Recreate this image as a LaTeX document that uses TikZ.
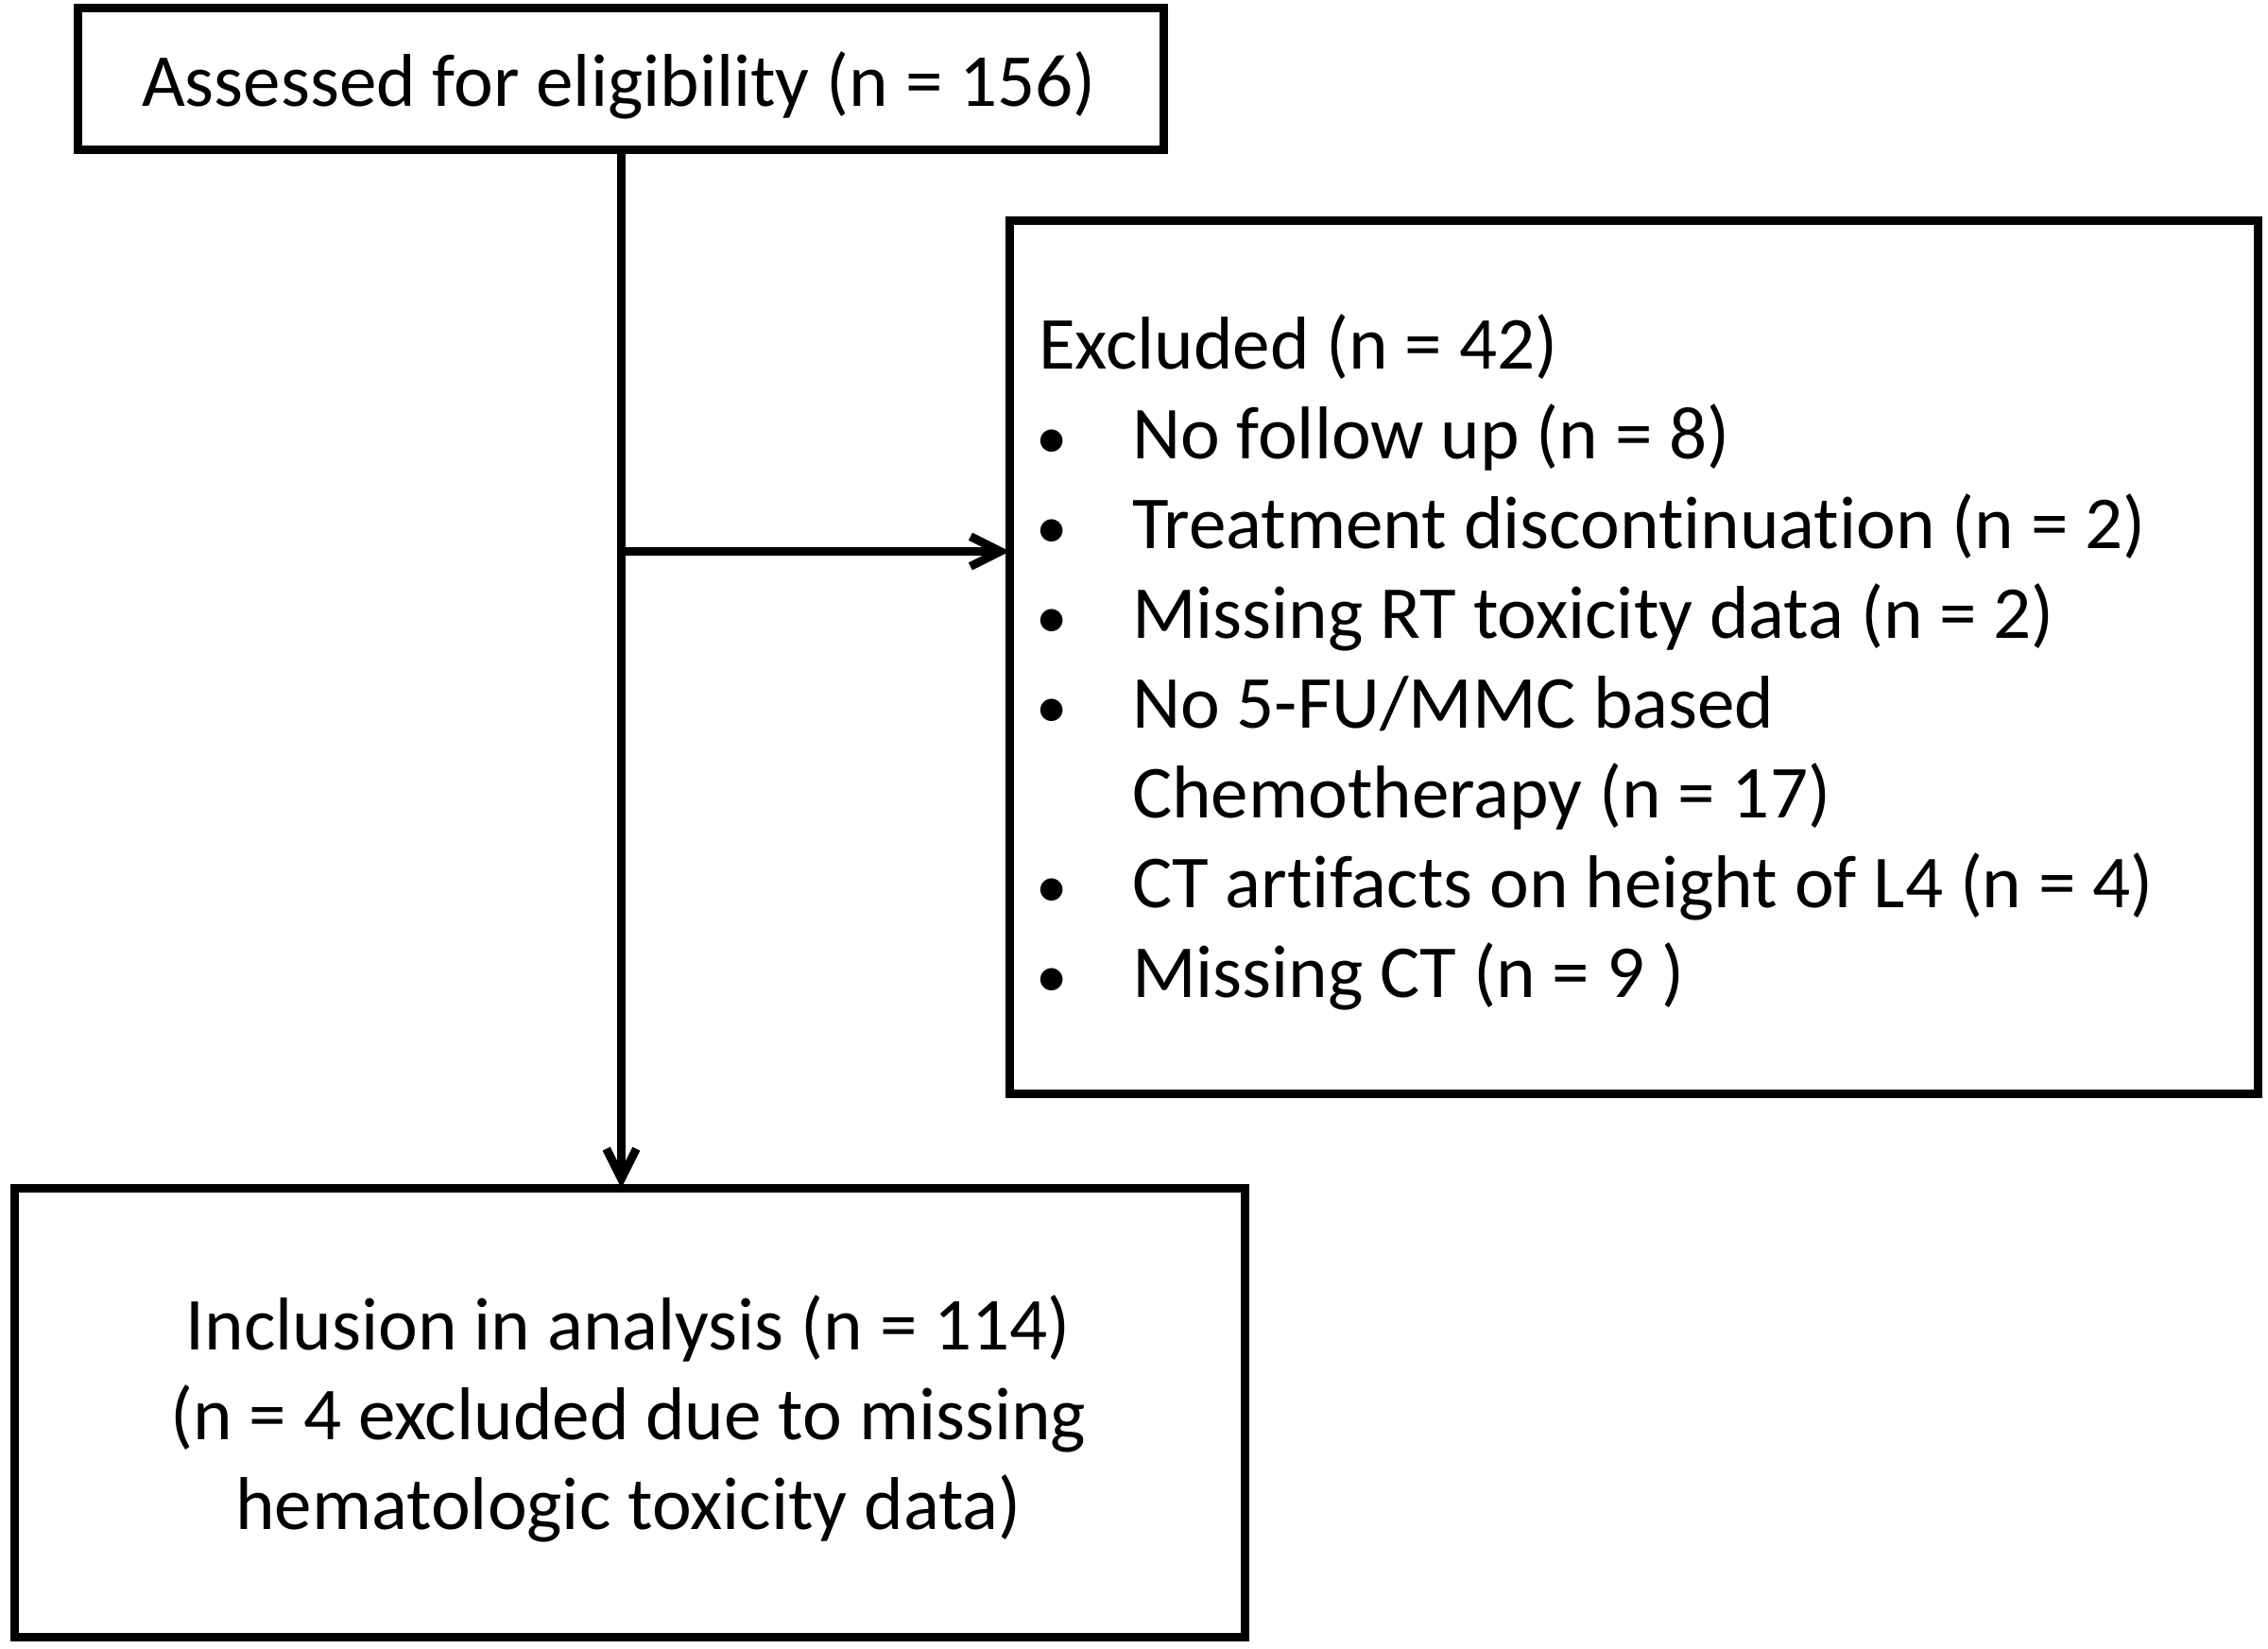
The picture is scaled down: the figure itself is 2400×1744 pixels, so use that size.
\documentclass[tikz,border=0pt]{standalone}
\usepackage{fontspec}
\setmainfont{Carlito}[Ligatures={NoCommon}]
\usetikzlibrary{arrows.meta}
\tikzset{
  box/.style={draw=black, line width=2.56pt, inner sep=0pt, outer sep=0pt, fill=white},
  txt/.style={inner sep=0pt, outer sep=0pt, anchor=base, font=\fontsize{22.5pt}{27pt}\selectfont},
  txtl/.style={txt, anchor=base west},
  bul/.style={inner sep=0pt, outer sep=0pt, anchor=base, font=\fontsize{19pt}{22pt}\selectfont},
  conn/.style={draw=black, line width=2.56pt},
  tipped/.style={conn, -{Straight Barb[length=9pt,width=9pt]}}
}
\begin{document}
\begin{tikzpicture}[x=0.01cm,y=-0.01cm]
\useasboundingbox (0,0) rectangle (2400,1744);
\fill[white] (0,0) rectangle (2400,1744);
% boxes
\node[box, minimum width=11.485cm, minimum height=1.49cm] (assess) at (656.75,83.5) {};
\node[box, minimum width=13.2cm, minimum height=9.235cm] (excl) at (1729,695.25) {};
\node[box, minimum width=13.01cm, minimum height=4.75cm] (incl) at (666.5,1495) {};
% texts
\node[txt] (t0) at (655,112) {Assessed for eligibility (n = 156)};
\node[txtl] (e0) at (1099,390) {Excluded (n = 42)};
\node[bul] (b1) at (1113,485) {•};
\node[txtl] (e1) at (1198,485) {No follow up (n = 8)};
\node[bul] (b2) at (1113,580) {•};
\node[txtl] (e2) at (1198,580) {Treatment discontinuation (n = 2)};
\node[bul] (b3) at (1113,675) {•};
\node[txtl] (e3) at (1198,675) {Missing RT toxicity data (n = 2)};
\node[bul] (b4) at (1113,770) {•};
\node[txtl] (e4) at (1198,770) {No 5-FU/MMC based};
\node[txtl] (e5) at (1198,865) {Chemotherapy (n = 17)};
\node[bul] (b6) at (1113,960) {•};
\node[txtl] (e6) at (1198,960) {CT artifacts on height of L4 (n = 4)};
\node[bul] (b7) at (1113,1055) {•};
\node[txtl] (e7) at (1198,1055) {Missing CT (n = 9 )};
\node[txt] (i1) at (665,1428) {Inclusion in analysis (n = 114)};
\node[txt] (i2) at (665,1523) {(n = 4 excluded due to missing};
\node[txt] (i3) at (665,1618) {hematologic toxicity data)};
% connectors
\coordinate (top) at (657.5,158);
\coordinate (branch) at (657.5,583.5);
\draw[tipped] (top) -- (top |- incl.north);
\draw[tipped] (branch) -- (branch -| excl.west);
\end{tikzpicture}
\end{document}
